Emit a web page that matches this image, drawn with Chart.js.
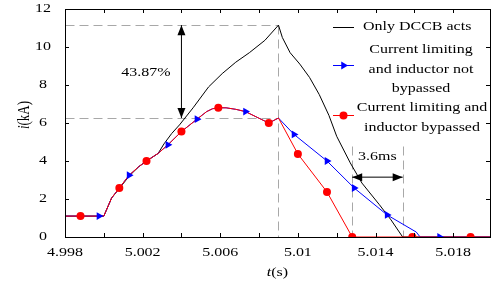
<!DOCTYPE html>
<html>
<head>
<meta charset="utf-8">
<script src="https://cdn.jsdelivr.net/npm/chart.js@4.4.1/dist/chart.umd.min.js"></script>
<style>
  html, body { margin: 0; padding: 0; background: #fff; }
  #wrap { width: 497px; height: 283px; }
</style>
</head>
<body>
<div id="wrap"><canvas id="c"></canvas></div>
<script>
// 曲线数据 (t 单位 s, i 单位 kA)
const tDccb = [4.998, 5.0000, 5.0004, 5.0008, 5.0013, 5.0018, 5.0022, 5.0028, 5.0031, 5.0035, 5.0039,
  5.0046, 5.0054, 5.0061, 5.0068, 5.0075, 5.0083, 5.0090, 5.0092, 5.0096, 5.0101, 5.0106, 5.0111,
  5.0116, 5.0120, 5.0127, 5.0133, 5.0142, 5.0148, 5.0154, 5.0200];
const iDccb = [1.1, 1.1, 2.05, 2.55, 3.2, 3.7, 4.0, 4.4, 4.9, 5.45, 5.9,
  6.8, 7.9, 8.6, 9.2, 9.7, 10.35, 11.15, 10.5, 9.7, 9.1, 8.4, 7.5,
  6.4, 5.3, 3.9, 2.84, 1.7, 0.9, 0, 0];

const tNotBypassed = [4.998, 5.0000, 5.0004, 5.0008, 5.0013, 5.0018, 5.0022, 5.0028, 5.0033, 5.0040,
  5.0048, 5.0053, 5.0056, 5.0059, 5.0063, 5.0068, 5.0073, 5.0079, 5.0085, 5.0090,
  5.0098, 5.0115, 5.0129, 5.0146, 5.0161, 5.0163, 5.0200];
const iNotBypassed = [1.1, 1.1, 2.05, 2.58, 3.25, 3.7, 4.0, 4.4, 4.85, 5.55,
  6.2, 6.6, 6.75, 6.8, 6.8, 6.72, 6.6, 6.3, 6.0, 6.26,
  5.4, 4.0, 2.58, 1.16, 0.26, 0, 0];

const tBypassed = [4.998, 5.0000, 5.0004, 5.0008, 5.0013, 5.0018, 5.0022, 5.0028, 5.0033, 5.0040,
  5.0048, 5.0053, 5.0056, 5.0059, 5.0063, 5.0068, 5.0073, 5.0079, 5.0085, 5.0090,
  5.0100, 5.0115, 5.0128, 5.0200];
const iBypassed = [1.1, 1.1, 2.05, 2.58, 3.25, 3.7, 4.0, 4.4, 4.85, 5.55,
  6.2, 6.6, 6.75, 6.8, 6.8, 6.72, 6.6, 6.3, 6.0, 6.26,
  4.37, 2.37, 0, 0];

// 标记点
const tMarkNB = [4.99975, 5.0013, 5.0033, 5.0048, 5.0073, 5.0098, 5.0115, 5.0129, 5.0146, 5.0173];
const iMarkNB = [1.1, 3.25, 4.85, 6.2, 6.6, 5.4, 4.0, 2.58, 1.16, 0];
const tMarkBp = [4.9988, 5.0008, 5.0022, 5.0040, 5.0059, 5.0085, 5.0100, 5.0115, 5.0128, 5.0159, 5.0189];
const iMarkBp = [1.1, 2.58, 4.0, 5.55, 6.8, 6.0, 4.37, 2.37, 0, 0, 0];

// 坐标轴刻度
const xTickValues = [4.998, 5.000, 5.002, 5.004, 5.006, 5.008, 5.010, 5.012, 5.014, 5.016, 5.018];
const yTickValues = [0, 2, 4, 6, 8, 10, 12];

// 标注用的数值
const peakDccb = 11.15;
const peakLimited = 6.26;
const tPeak = 5.009;
const tZeroBp = 5.0128;
const tZeroDccb = 5.0154;
const tArrow = 5.004;
const pctText = '43.87%';
const msText = '3.6ms';

const SX = 1.23;   // 原图文字横向拉伸
const FS = 13;
const SERIF = '"Liberation Serif", "Times New Roman", serif';

function pts(ts, is) {
  return ts.map((t, k) => ({ x: t, y: is[k] }));
}

function sText(ctx, txt, x, y, align) {
  ctx.save();
  ctx.translate(x, y);
  ctx.scale(SX, 1);
  ctx.font = FS + 'px ' + SERIF;
  ctx.fillStyle = '#000';
  ctx.textBaseline = 'middle';
  ctx.textAlign = align || 'center';
  ctx.fillText(txt, 0, 0);
  ctx.restore();
}

// 带斜体的标题, parts: [[文字, 是否斜体]]
function richText(ctx, parts, x, y, rotate) {
  ctx.save();
  ctx.translate(x, y);
  if (rotate) {
    ctx.rotate(-Math.PI / 2);
    ctx.scale(1, SX);
  } else {
    ctx.scale(SX, 1);
  }
  ctx.fillStyle = '#000';
  ctx.textBaseline = 'middle';
  ctx.textAlign = 'left';
  let total = 0;
  parts.forEach(p => {
    ctx.font = (p[1] ? 'italic ' : '') + FS + 'px ' + SERIF;
    total += ctx.measureText(p[0]).width;
  });
  let cx = -total / 2;
  parts.forEach(p => {
    ctx.font = (p[1] ? 'italic ' : '') + FS + 'px ' + SERIF;
    ctx.fillText(p[0], cx, 0);
    cx += ctx.measureText(p[0]).width;
  });
  ctx.restore();
}

function arrowHead(ctx, x, y, dx, dy) {
  const len = 10, hw = 4;
  ctx.beginPath();
  ctx.moveTo(x, y);
  ctx.lineTo(x - dx * len - dy * hw, y - dy * len + dx * hw);
  ctx.lineTo(x - dx * len + dy * hw, y - dy * len - dx * hw);
  ctx.closePath();
  ctx.fill();
}

function doubleArrow(ctx, x1, y1, x2, y2) {
  const d = Math.hypot(x2 - x1, y2 - y1);
  const dx = (x2 - x1) / d, dy = (y2 - y1) / d;
  ctx.save();
  ctx.strokeStyle = '#000';
  ctx.fillStyle = '#000';
  ctx.lineWidth = 1;
  ctx.beginPath();
  ctx.moveTo(x1, y1);
  ctx.lineTo(x2, y2);
  ctx.stroke();
  arrowHead(ctx, x2, y2, dx, dy);
  arrowHead(ctx, x1, y1, -dx, -dy);
  ctx.restore();
}

function dashed(ctx, x1, y1, x2, y2) {
  ctx.save();
  ctx.strokeStyle = '#a8a8a8';
  ctx.lineWidth = 1;
  ctx.setLineDash([9, 5]);
  ctx.beginPath();
  ctx.moveTo(Math.round(x1) + 0.5, Math.round(y1) + 0.5);
  ctx.lineTo(Math.round(x2) + 0.5, Math.round(y2) + 0.5);
  ctx.stroke();
  ctx.restore();
}

function legendSample(ctx, color, y, style) {
  ctx.save();
  ctx.lineWidth = 1;
  ctx.strokeStyle = color;
  ctx.fillStyle = color;
  ctx.beginPath();
  ctx.moveTo(333, y + 0.5);
  ctx.lineTo(354, y + 0.5);
  ctx.stroke();
  if (style) {
    Chart.helpers.drawPoint(ctx, {
      pointStyle: style,
      radius: style === 'triangle' ? 4.5 : 4,
      rotation: style === 'triangle' ? 90 : 0,
      borderWidth: 0
    }, 343.5, y + 0.5);
  }
  ctx.restore();
}

const decorPlugin = {
  id: 'decor',
  beforeDatasetsDraw(chart) {
    const ctx = chart.ctx;
    const xs = chart.scales.x, ys = chart.scales.y;
    const xp = xs.getPixelForValue(tPeak);
    const l = chart.chartArea.left;
    dashed(ctx, l, ys.getPixelForValue(peakDccb), xp, ys.getPixelForValue(peakDccb));
    dashed(ctx, l, ys.getPixelForValue(peakLimited), xp, ys.getPixelForValue(peakLimited));
    dashed(ctx, xp, ys.getPixelForValue(peakDccb), xp, ys.getPixelForValue(0));
    dashed(ctx, xs.getPixelForValue(tZeroBp), ys.getPixelForValue(4.8), xs.getPixelForValue(tZeroBp), ys.getPixelForValue(0));
    dashed(ctx, xs.getPixelForValue(tZeroDccb), ys.getPixelForValue(4.8), xs.getPixelForValue(tZeroDccb), ys.getPixelForValue(0));
  },
  afterDraw(chart) {
    const ctx = chart.ctx;
    const a = chart.chartArea;
    const xs = chart.scales.x, ys = chart.scales.y;

    // 边框
    ctx.save();
    ctx.strokeStyle = '#000';
    ctx.lineWidth = 1;
    ctx.strokeRect(Math.round(a.left) + 0.5, Math.round(a.top) + 0.5,
      Math.round(a.right - a.left), Math.round(a.bottom - a.top));

    // 向内刻度
    ctx.beginPath();
    xs.ticks.forEach(tk => {
      const px = Math.round(xs.getPixelForValue(tk.value)) + 0.5;
      ctx.moveTo(px, a.bottom); ctx.lineTo(px, a.bottom - 4);
      ctx.moveTo(px, a.top); ctx.lineTo(px, a.top + 4);
    });
    ys.ticks.forEach(tk => {
      const py = Math.round(ys.getPixelForValue(tk.value)) + 0.5;
      ctx.moveTo(a.left, py); ctx.lineTo(a.left + 4, py);
      ctx.moveTo(a.right, py); ctx.lineTo(a.right - 4, py);
    });
    ctx.stroke();
    ctx.restore();

    // 刻度标签
    xs.ticks.forEach(tk => {
      if (tk.label) sText(ctx, tk.label, xs.getPixelForValue(tk.value), a.bottom + 16, 'center');
    });
    ys.ticks.forEach(tk => {
      sText(ctx, tk.label, 43, ys.getPixelForValue(tk.value), 'center');
    });

    // 坐标轴标题
    richText(ctx, [['t', true], ['(s)', false]], (a.left + a.right) / 2, 273, false);
    richText(ctx, [['i', true], ['(kA)', false]], 25, (a.top + a.bottom) / 2 - 8, true);

    // 43.87% 箭头
    const xa = xs.getPixelForValue(tArrow);
    doubleArrow(ctx, xa, ys.getPixelForValue(peakDccb), xa, ys.getPixelForValue(peakLimited));
    sText(ctx, pctText, xs.getPixelForValue(5.00217), ys.getPixelForValue(8.63), 'center');

    // 3.6ms 箭头
    const yb = ys.getPixelForValue(3.15);
    doubleArrow(ctx, xs.getPixelForValue(tZeroBp), yb, xs.getPixelForValue(tZeroDccb), yb);
    sText(ctx, msText, (xs.getPixelForValue(tZeroBp) + xs.getPixelForValue(tZeroDccb)) / 2,
      ys.getPixelForValue(4.25), 'center');

    // 图例
    legendSample(ctx, '#000000', 27, null);
    legendSample(ctx, '#0000ff', 65, 'triangle');
    legendSample(ctx, '#ff0000', 115, 'circle');
    sText(ctx, 'Only DCCB acts', 363, 27, 'left');
    sText(ctx, 'Current limiting', 421, 50, 'center');
    sText(ctx, 'and inductor not', 421, 70, 'center');
    sText(ctx, 'bypassed', 421, 89, 'center');
    sText(ctx, 'Current limiting and', 422, 108, 'center');
    sText(ctx, 'inductor bypassed', 422, 128, 'center');
  }
};

const lineStyle = { showLine: true, pointRadius: 0, borderWidth: 1, tension: 0, fill: false };

const chart = new Chart(document.getElementById('c'), {
  type: 'scatter',
  data: {
    datasets: [
      { label: 'bp marks', data: pts(tMarkBp, iMarkBp), showLine: false, pointStyle: 'circle',
        pointRadius: 4, backgroundColor: '#ff0000', borderColor: '#ff0000', borderWidth: 0 },
      { label: 'nb marks', data: pts(tMarkNB, iMarkNB), showLine: false, pointStyle: 'triangle',
        rotation: 90, pointRadius: 4.5, backgroundColor: '#0000ff', borderColor: '#0000ff', borderWidth: 0 },
      Object.assign({ label: 'Current limiting and inductor bypassed', data: pts(tBypassed, iBypassed),
        borderColor: '#ff0000' }, lineStyle),
      Object.assign({ label: 'Current limiting and inductor not bypassed', data: pts(tNotBypassed, iNotBypassed),
        borderColor: '#0000ff' }, lineStyle),
      Object.assign({ label: 'Only DCCB acts', data: pts(tDccb, iDccb),
        borderColor: '#000000' }, lineStyle)
    ]
  },
  options: {
    responsive: true,
    maintainAspectRatio: false,
    animation: false,
    layout: { padding: { top: 9, right: 7, left: 0, bottom: 0 } },
    plugins: { legend: { display: false }, tooltip: { enabled: false } },
    scales: {
      x: {
        type: 'linear',
        min: 4.998,
        max: 5.0199,
        grid: { display: false },
        border: { display: false },
        ticks: {
          display: false,
          callback: v => (Math.round((v - 4.998) / 0.002) % 2 === 0 ? String(Number(v.toFixed(3))) : '')
        },
        afterBuildTicks: s => { s.ticks = xTickValues.map(v => ({ value: v })); },
        afterFit: s => { s.height = 46; }
      },
      y: {
        min: 0,
        max: 12,
        grid: { display: false },
        border: { display: false },
        ticks: { display: false, callback: v => String(v) },
        afterBuildTicks: s => { s.ticks = yTickValues.map(v => ({ value: v })); },
        afterFit: s => { s.width = 65; }
      }
    }
  },
  plugins: [decorPlugin]
});
</script>
</body>
</html>
